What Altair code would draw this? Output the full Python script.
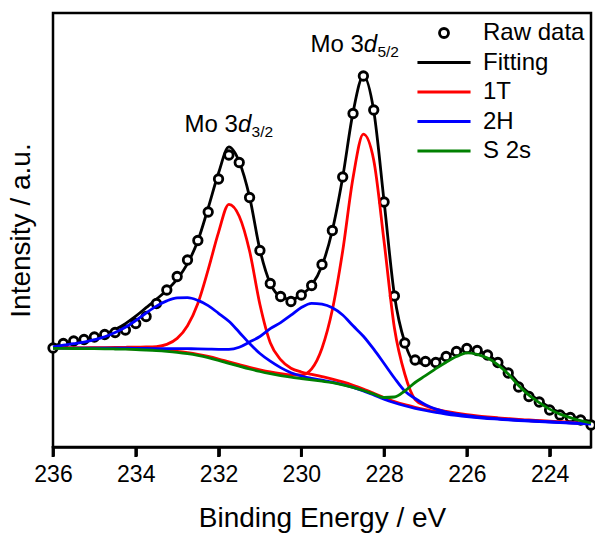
import altair as alt
import pandas as pd

# ---------------- data ----------------
energy = [236.0, 235.75, 235.5, 235.25, 235.0, 234.75, 234.5, 234.25, 234.0,
          233.75, 233.5, 233.25, 233.0, 232.75, 232.5, 232.25, 232.0,
          231.75, 231.5, 231.25, 231.0, 230.75, 230.5, 230.25, 230.0,
          229.75, 229.5, 229.25, 229.0, 228.75, 228.5, 228.25, 228.0,
          227.75, 227.5, 227.25, 227.0, 226.75, 226.5, 226.25, 226.0,
          225.75, 225.5, 225.25, 225.0, 224.75, 224.5, 224.25, 224.0,
          223.75, 223.5, 223.25, 223.0]

raw_data = [99, 103.5, 106, 107.5, 110, 112.5, 114.5, 117, 123.5,
            130.5, 143.5, 157, 170.5, 187, 206.5, 235, 268,
            292, 284.5, 249.5, 196.5, 163.5, 150.5, 145.5, 152,
            161.5, 182.5, 216.5, 270, 333.5, 371, 337, 245,
            151, 104, 87, 85.5, 84.5, 90.5, 95.5, 98.5,
            96.5, 92, 84.5, 74, 60, 50.5, 45, 37,
            32, 29.5, 27, 22]

background = [98.7, 98.6, 98.5, 98.4, 98.3, 98.2, 98.0, 97.8, 97.5,
              97.0, 96.4, 95.6, 94.6, 93.3, 91.6, 89.4, 86.7,
              83.7, 80.8, 78.0, 75.5, 73.3, 71.4, 69.8, 68.5,
              67.2, 65.8, 64.2, 62.0, 59.2, 55.8, 51.8, 47.5,
              44.0, 41.0, 38.5, 36.3, 34.4, 32.8, 31.4, 30.2,
              29.2, 28.4, 27.7, 27.0, 26.4, 25.9, 25.4, 24.9,
              24.4, 23.9, 23.4, 23.0]

# component heights above the background
peak_1T_32 = [0.5, 0.6, 0.7, 0.8, 1.0, 1.2, 1.5, 1.9, 2.4,
              3.0, 4.0, 7, 14, 28, 52, 88, 128,
              159, 150, 118, 67, 31, 16, 9, 6.5,
              5.5, 4.5, 3.7, 3.1, 2.6, 2.2, 1.9, 1.7,
              1.5, 1.3, 1.2, 1.1, 1.0, 0.9, 0.8, 0.75,
              0.7, 0.65, 0.6, 0.55, 0.5, 0.45, 0.4, 0.4,
              0.35, 0.35, 0.3, 0.3]

peak_1T_52 = [0.45, 0.45, 0.5, 0.5, 0.55, 0.6, 0.65, 0.7, 0.75,
              0.8, 0.85, 0.9, 1.0, 1.05, 1.1, 1.2, 1.3,
              1.4, 1.5, 1.6, 1.7, 1.8, 2.0, 2.4, 3.5,
              11, 33, 73, 134, 210, 257, 235, 158,
              75, 32, 9, 5, 3.5, 2.8, 2.4, 2.1,
              1.9, 1.7, 1.5, 1.35, 1.2, 1.1, 1.0, 0.9,
              0.85, 0.8, 0.75, 0.7]

peak_2H_32 = [1.5, 3.3, 4.8, 6.5, 9, 12, 16.5, 22, 29,
              37, 44.5, 50.5, 54.5, 56, 55, 52, 47,
              42, 34, 25.5, 18, 12.5, 8, 4.5, 2.5,
              1.5, 1.0, 0.7, 0.5, 0.4, 0.35, 0.3, 0.3,
              0.25, 0.25, 0.2, 0.2, 0.2, 0.15, 0.15, 0.15,
              0.15, 0.1, 0.1, 0.1, 0.1, 0.1, 0.1, 0.1,
              0.1, 0.1, 0.1, 0.1]

peak_2H_52 = [0.3, 0.35, 0.4, 0.5, 0.6, 0.7, 0.8, 1.0, 1.2,
              1.5, 2.0, 2.8, 3.8, 5.0, 6.5, 8.5, 11,
              14, 19, 27, 35, 45, 53, 62, 71,
              76.5, 77, 75, 70, 62, 55, 46, 36,
              25, 15, 10, 6, 3.5, 2.2, 1.5, 1.1,
              0.9, 0.7, 0.6, 0.5, 0.45, 0.4, 0.35, 0.3,
              0.3, 0.25, 0.25, 0.2]

peak_S2s = [0, 0, 0, 0, 0, 0, 0, 0, 0,
            0, 0, 0, 0, 0, 0, 0, 0,
            0, 0, 0, 0, 0, 0, 0, 0,
            0, 0, 0.1, 0.2, 0.4, 0.7, 1.2, 2.0,
            6, 15, 26, 35, 44, 52, 59, 64,
            63.5, 60.5, 54.5, 46, 35, 26, 19, 13,
            8.5, 5.5, 3, 1]

series_names = ["Raw data", "Fitting", "1T", "2H", "S 2s"]
series_colors = ["#000000", "#000000", "#ff0000", "#0000ff", "#008000"]
tick_values = [236, 234, 232, 230, 228, 226, 224]

label_E = [232.82, 229.78]
label_I = [315.3, 395.3]
label_main = ["Mo 3", "Mo 3"]
label_sub = ["3/2", "5/2"]

# ---------------- tables ----------------
fit = [b + a + c + d + e + f for b, a, c, d, e, f in
       zip(background, peak_1T_32, peak_1T_52, peak_2H_32, peak_2H_52, peak_S2s)]

curves = [
    ("Fitting", "fit", fit),
    ("1T", "1T_32", [b + p for b, p in zip(background, peak_1T_32)]),
    ("1T", "1T_52", [b + p for b, p in zip(background, peak_1T_52)]),
    ("2H", "2H_32", [b + p for b, p in zip(background, peak_2H_32)]),
    ("2H", "2H_52", [b + p for b, p in zip(background, peak_2H_52)]),
    ("S 2s", "S2s", [b + p for b, p in zip(background, peak_S2s)]),
]
rows = []
for series, cid, vals in curves:
    for e, v in zip(energy, vals):
        rows.append({"E": e, "I": v, "series": series, "curve": cid})
df_lines = pd.DataFrame(rows)
df_raw = pd.DataFrame({"E": energy, "I": raw_data, "series": "Raw data"})
df_ann = pd.DataFrame({"E": label_E, "I": label_I, "main": label_main, "sub": label_sub})
df_ticks = pd.DataFrame({"E": tick_values})

FONT = "Liberation Sans"
line_symbol = "M-5.9,0H5.9"
series_shapes = ["circle", line_symbol, line_symbol, line_symbol, line_symbol]

legend = alt.Legend(title=None, orient="none", legendX=379, legendY=8,
                    labelFontSize=24, labelFont=FONT, labelColor="black",
                    symbolSize=81, symbolStrokeWidth=2.8, labelOffset=27,
                    rowPadding=5.5, padding=0, labelLimit=300)

x_axis = alt.Axis(values=tick_values, title="Binding Energy / eV", grid=False,
                  domain=True, domainColor="black", domainWidth=2.5,
                  ticks=True, tickSize=9, tickWidth=2.8, tickOpacity=1,
                  tickColor="#000000", labelFlush=False, zindex=2,
                  labelFontSize=23, labelFont=FONT, labelColor="black",
                  labelPadding=7, titleFontSize=28, titleFont=FONT,
                  titleFontWeight="normal", titleColor="black", titlePadding=18)
y_axis = alt.Axis(title="Intensity / a.u.", labels=False, ticks=False,
                  domain=False, grid=False, titleFontSize=28, titleFont=FONT,
                  titleFontWeight="normal", titleColor="black", titlePadding=18)

x_scale = alt.Scale(domain=[223, 236], reverse=True, nice=False, zero=False)
y_scale = alt.Scale(domain=[0, 434], nice=False, zero=False)

x_enc = alt.X("E:Q", scale=x_scale, axis=x_axis)
y_enc = alt.Y("I:Q", scale=y_scale, axis=y_axis)
color_enc = alt.Color("series:N", scale=alt.Scale(domain=series_names, range=series_colors),
                      legend=legend)
shape_enc = alt.Shape("series:N", scale=alt.Scale(domain=series_names, range=series_shapes),
                      legend=legend)


def line_layer(name):
    return alt.Chart(df_lines[df_lines["series"] == name]).mark_line(
        strokeWidth=2.8, interpolate="monotone"
    ).encode(x=x_enc, y=y_enc, color=color_enc, detail="curve:N")


fit_layer = line_layer("Fitting")
raw_layer = alt.Chart(df_raw).mark_point(
    filled=False, fill="white", size=72, strokeWidth=2.8, opacity=1
).encode(x=x_enc, y=y_enc, color=color_enc, shape=shape_enc)

# outward tick marks under the bottom frame, one per tick value
tick_layer = alt.Chart(df_ticks).mark_rule(color="#000000", strokeWidth=2.8,
                                           clip=False).encode(
    x=x_enc, y=alt.value(433), y2=alt.value(444)
)

ann_main = alt.Chart(df_ann).mark_text(
    align="left", baseline="alphabetic", fontSize=24, font=FONT, color="black"
).encode(x=x_enc, y=y_enc, text="main:N")
ann_d = alt.Chart(df_ann).mark_text(
    align="left", baseline="alphabetic", fontSize=24, font=FONT, fontStyle="italic",
    color="black", dx=53.4, text="d"
).encode(x=x_enc, y=y_enc)
ann_sub = alt.Chart(df_ann).mark_text(
    align="left", baseline="alphabetic", fontSize=15.5, font=FONT, color="black",
    dx=67, dy=5
).encode(x=x_enc, y=y_enc, text="sub:N")

chart = alt.layer(
    fit_layer, raw_layer, line_layer("1T"), line_layer("2H"), line_layer("S 2s"),
    tick_layer, ann_main, ann_d, ann_sub
).properties(
    width=538, height=434,
    padding={"left": 53, "top": 13, "right": 4, "bottom": 87},
    autosize=alt.AutoSizeParams(type="none"),
    background="white",
).configure_view(
    stroke="black", strokeWidth=2.5
).configure_axisX(
    ticks=True, tickSize=9, tickWidth=2.8, tickColor="#000000", tickOpacity=1
)

chart.save("out.html", embed_options={"renderer": "svg", "actions": False})
